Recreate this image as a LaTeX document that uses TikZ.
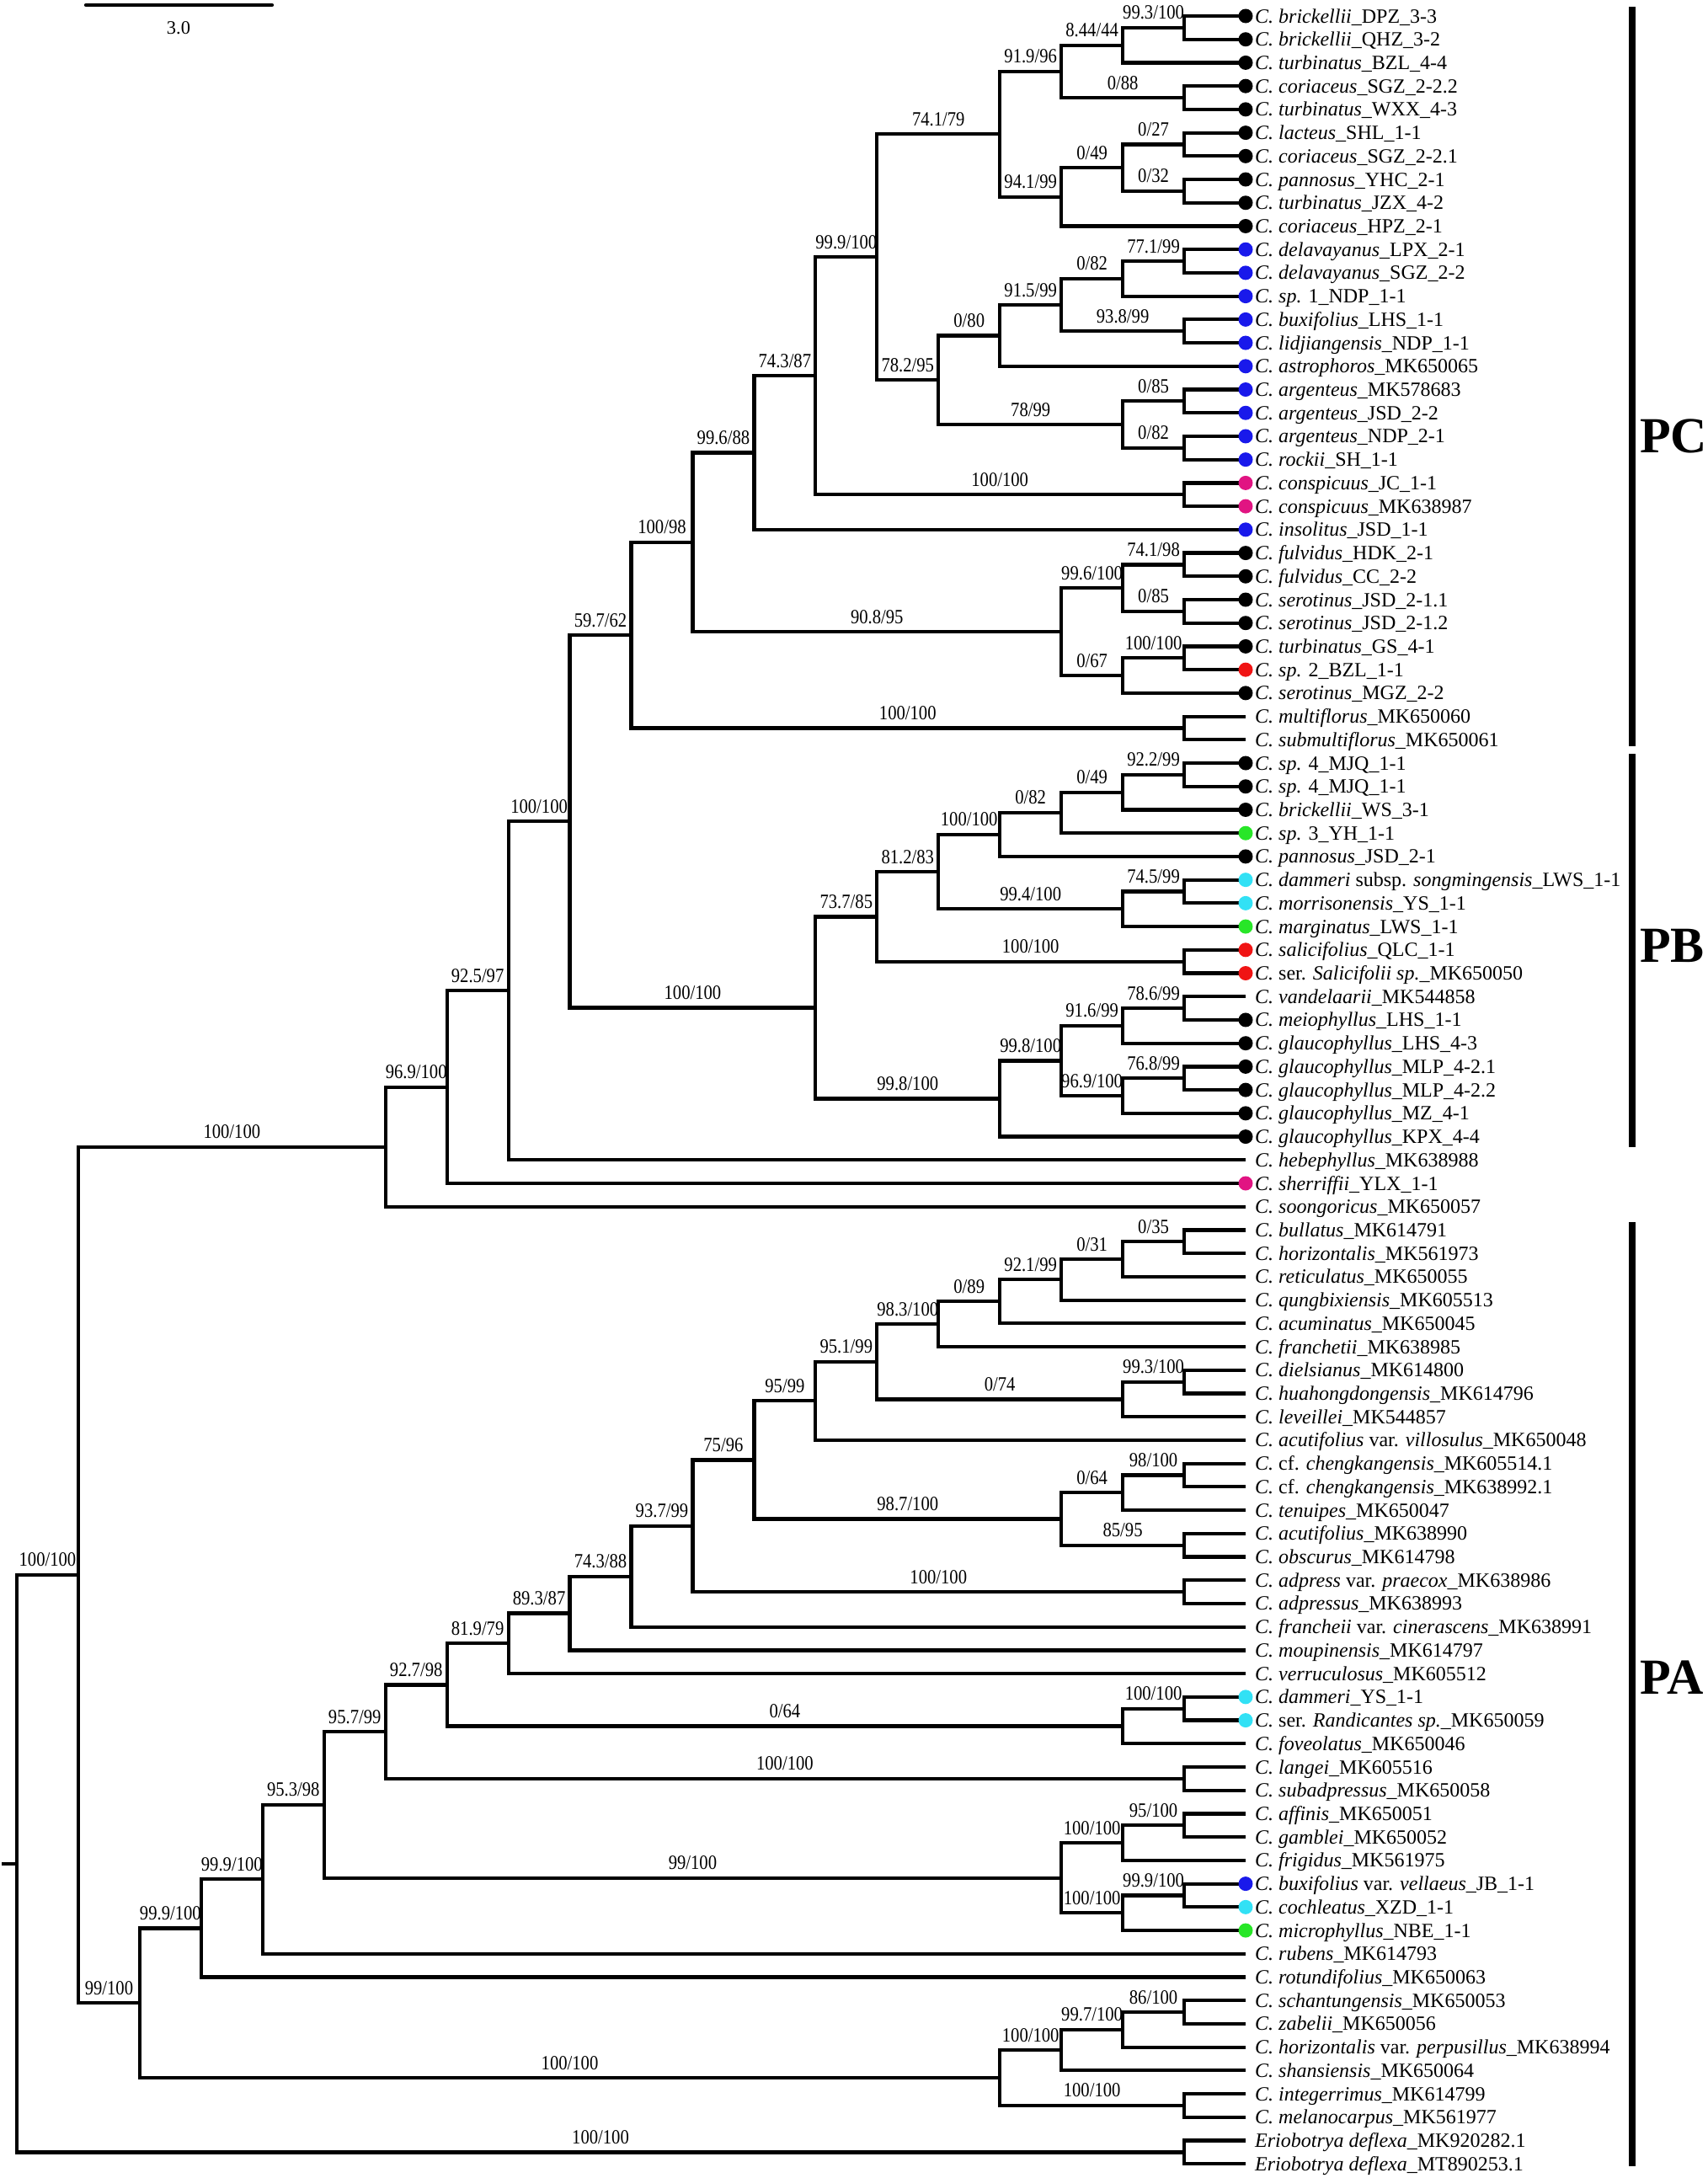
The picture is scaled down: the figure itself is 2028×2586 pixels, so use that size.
\documentclass[tikz,border=0pt]{standalone}
\usepackage{fontspec}
\setmainfont{Liberation Serif}
\newfontfamily\suppfont[FakeStretch=0.86]{Liberation Serif}
\definecolor{dblue}{RGB}{25,25,235}
\definecolor{dmag}{RGB}{225,20,130}
\definecolor{dred}{RGB}{240,20,20}
\definecolor{dgreen}{RGB}{40,230,40}
\definecolor{dcyan}{RGB}{50,225,245}
\tikzset{
  br/.style={line width=4.2pt},
  sl/.style={font=\fontsize{24}{24}\selectfont\suppfont, anchor=base, yshift=10pt, inner sep=0pt},
  tiplab/.style={font=\fontsize{24}{24}\selectfont, anchor=base west, inner sep=0pt, xshift=11pt, yshift=-8pt},
  dotn/.style={circle, minimum size=17pt, inner sep=0pt, draw=none},
  cladebar/.style={line width=8pt},
  cladelab/.style={font=\fontsize{60}{60}\selectfont\bfseries, anchor=west, inner sep=0pt}
}
\newcommand\IN[3]{\coordinate (#1) at ({1479-72.95*#2},#3);}
\newcommand\tp[2]{\coordinate (t#1) at (1479,#1);\node[tiplab] (l#1) at (t#1) {#2};}
\newcommand\cl[5]{\draw[br] (#2) -| node[sl,pos=.25]{#4} (#1) |- node[sl,pos=.75]{#5} (#3);}
\newcommand\sn[1]{\textit{#1}}
\begin{document}
\begin{tikzpicture}[x=1pt,y=1pt]
\fill[white] (0pt,0pt) rectangle (2028pt,-2586pt);
\useasboundingbox (0pt,0pt) rectangle (2028pt,-2586pt);
\begin{scope}[y=-27.72pt, yshift=8.72pt]
% tips
\tp{1}{\sn{C. brickellii}\_DPZ\_3-3}
\tp{2}{\sn{C. brickellii}\_QHZ\_3-2}
\tp{3}{\sn{C. turbinatus}\_BZL\_4-4}
\tp{4}{\sn{C. coriaceus}\_SGZ\_2-2.2}
\tp{5}{\sn{C. turbinatus}\_WXX\_4-3}
\tp{6}{\sn{C. lacteus}\_SHL\_1-1}
\tp{7}{\sn{C. coriaceus}\_SGZ\_2-2.1}
\tp{8}{\sn{C. pannosus}\_YHC\_2-1}
\tp{9}{\sn{C. turbinatus}\_JZX\_4-2}
\tp{10}{\sn{C. coriaceus}\_HPZ\_2-1}
\tp{11}{\sn{C. delavayanus}\_LPX\_2-1}
\tp{12}{\sn{C. delavayanus}\_SGZ\_2-2}
\tp{13}{\sn{C. sp.} 1\_NDP\_1-1}
\tp{14}{\sn{C. buxifolius}\_LHS\_1-1}
\tp{15}{\sn{C. lidjiangensis}\_NDP\_1-1}
\tp{16}{\sn{C. astrophoros}\_MK650065}
\tp{17}{\sn{C. argenteus}\_MK578683}
\tp{18}{\sn{C. argenteus}\_JSD\_2-2}
\tp{19}{\sn{C. argenteus}\_NDP\_2-1}
\tp{20}{\sn{C. rockii}\_SH\_1-1}
\tp{21}{\sn{C. conspicuus}\_JC\_1-1}
\tp{22}{\sn{C. conspicuus}\_MK638987}
\tp{23}{\sn{C. insolitus}\_JSD\_1-1}
\tp{24}{\sn{C. fulvidus}\_HDK\_2-1}
\tp{25}{\sn{C. fulvidus}\_CC\_2-2}
\tp{26}{\sn{C. serotinus}\_JSD\_2-1.1}
\tp{27}{\sn{C. serotinus}\_JSD\_2-1.2}
\tp{28}{\sn{C. turbinatus}\_GS\_4-1}
\tp{29}{\sn{C. sp.} 2\_BZL\_1-1}
\tp{30}{\sn{C. serotinus}\_MGZ\_2-2}
\tp{31}{\sn{C. multiflorus}\_MK650060}
\tp{32}{\sn{C. submultiflorus}\_MK650061}
\tp{33}{\sn{C. sp.} 4\_MJQ\_1-1}
\tp{34}{\sn{C. sp.} 4\_MJQ\_1-1}
\tp{35}{\sn{C. brickellii}\_WS\_3-1}
\tp{36}{\sn{C. sp.} 3\_YH\_1-1}
\tp{37}{\sn{C. pannosus}\_JSD\_2-1}
\tp{38}{\sn{C. dammeri} subsp. \sn{songmingensis}\_LWS\_1-1}
\tp{39}{\sn{C. morrisonensis}\_YS\_1-1}
\tp{40}{\sn{C. marginatus}\_LWS\_1-1}
\tp{41}{\sn{C. salicifolius}\_QLC\_1-1}
\tp{42}{\sn{C.} ser. \sn{Salicifolii sp.}\_MK650050}
\tp{43}{\sn{C. vandelaarii}\_MK544858}
\tp{44}{\sn{C. meiophyllus}\_LHS\_1-1}
\tp{45}{\sn{C. glaucophyllus}\_LHS\_4-3}
\tp{46}{\sn{C. glaucophyllus}\_MLP\_4-2.1}
\tp{47}{\sn{C. glaucophyllus}\_MLP\_4-2.2}
\tp{48}{\sn{C. glaucophyllus}\_MZ\_4-1}
\tp{49}{\sn{C. glaucophyllus}\_KPX\_4-4}
\tp{50}{\sn{C. hebephyllus}\_MK638988}
\tp{51}{\sn{C. sherriffii}\_YLX\_1-1}
\tp{52}{\sn{C. soongoricus}\_MK650057}
\tp{53}{\sn{C. bullatus}\_MK614791}
\tp{54}{\sn{C. horizontalis}\_MK561973}
\tp{55}{\sn{C. reticulatus}\_MK650055}
\tp{56}{\sn{C. qungbixiensis}\_MK605513}
\tp{57}{\sn{C. acuminatus}\_MK650045}
\tp{58}{\sn{C. franchetii}\_MK638985}
\tp{59}{\sn{C. dielsianus}\_MK614800}
\tp{60}{\sn{C. huahongdongensis}\_MK614796}
\tp{61}{\sn{C. leveillei}\_MK544857}
\tp{62}{\sn{C. acutifolius} var. \sn{villosulus}\_MK650048}
\tp{63}{\sn{C.} cf. \sn{chengkangensis}\_MK605514.1}
\tp{64}{\sn{C.} cf. \sn{chengkangensis}\_MK638992.1}
\tp{65}{\sn{C. tenuipes}\_MK650047}
\tp{66}{\sn{C. acutifolius}\_MK638990}
\tp{67}{\sn{C. obscurus}\_MK614798}
\tp{68}{\sn{C. adpress} var. \sn{praecox}\_MK638986}
\tp{69}{\sn{C. adpressus}\_MK638993}
\tp{70}{\sn{C. francheii} var. \sn{cinerascens}\_MK638991}
\tp{71}{\sn{C. moupinensis}\_MK614797}
\tp{72}{\sn{C. verruculosus}\_MK605512}
\tp{73}{\sn{C. dammeri}\_YS\_1-1}
\tp{74}{\sn{C.} ser. \sn{Randicantes sp.}\_MK650059}
\tp{75}{\sn{C. foveolatus}\_MK650046}
\tp{76}{\sn{C. langei}\_MK605516}
\tp{77}{\sn{C. subadpressus}\_MK650058}
\tp{78}{\sn{C. affinis}\_MK650051}
\tp{79}{\sn{C. gamblei}\_MK650052}
\tp{80}{\sn{C. frigidus}\_MK561975}
\tp{81}{\sn{C. buxifolius} var. \sn{vellaeus}\_JB\_1-1}
\tp{82}{\sn{C. cochleatus}\_XZD\_1-1}
\tp{83}{\sn{C. microphyllus}\_NBE\_1-1}
\tp{84}{\sn{C. rubens}\_MK614793}
\tp{85}{\sn{C. rotundifolius}\_MK650063}
\tp{86}{\sn{C. schantungensis}\_MK650053}
\tp{87}{\sn{C. zabelii}\_MK650056}
\tp{88}{\sn{C. horizontalis} var. \sn{perpusillus}\_MK638994}
\tp{89}{\sn{C. shansiensis}\_MK650064}
\tp{90}{\sn{C. integerrimus}\_MK614799}
\tp{91}{\sn{C. melanocarpus}\_MK561977}
\tp{92}{\sn{Eriobotrya deflexa}\_MK920282.1}
\tp{93}{\sn{Eriobotrya deflexa}\_MT890253.1}
% internal nodes (name, depth, row)
\IN{c1}{1}{1.5}\IN{c2}{2}{2.25}\IN{c3}{1}{4.5}\IN{c4}{3}{3.375}
\IN{c5}{1}{6.5}\IN{c6}{1}{8.5}\IN{c7}{2}{7.5}\IN{c8}{3}{8.75}
\IN{c9}{4}{6.0625}\IN{c10}{1}{11.5}\IN{c11}{2}{12.25}\IN{c12}{1}{14.5}
\IN{c13}{3}{13.375}\IN{c14}{4}{14.6875}\IN{c15}{1}{17.5}\IN{c16}{1}{19.5}
\IN{c17}{2}{18.5}\IN{c18}{5}{16.59375}\IN{c19}{6}{11.328125}\IN{c20}{1}{21.5}
\IN{c21}{7}{16.4140625}\IN{c22}{8}{19.70703}\IN{c23}{1}{24.5}\IN{c24}{1}{26.5}
\IN{c25}{2}{25.5}\IN{c26}{1}{28.5}\IN{c27}{2}{29.25}\IN{c28}{3}{27.375}
\IN{c29}{9}{23.541}\IN{c30}{1}{31.5}\IN{c31}{10}{27.5205}
\IN{b1}{1}{33.5}\IN{b2}{2}{34.25}\IN{b3}{3}{35.125}\IN{b4}{4}{36.0625}
\IN{b5}{1}{38.5}\IN{b6}{2}{39.25}\IN{b7}{5}{37.65625}\IN{b8}{1}{41.5}
\IN{b9}{6}{39.578125}\IN{b10}{1}{43.5}\IN{b11}{2}{44.25}\IN{b12}{1}{46.5}
\IN{b13}{2}{47.25}\IN{b14}{3}{45.75}\IN{b15}{4}{47.375}\IN{b16}{7}{43.4765625}
\IN{a3}{11}{35.49853}\IN{a2}{12}{42.74927}\IN{a1}{13}{46.87463}\IN{a0}{14}{49.43732}
\IN{p1}{1}{53.5}\IN{p2}{2}{54.25}\IN{p3}{3}{55.125}\IN{p4}{4}{56.0625}
\IN{p5}{5}{57.03125}\IN{p6}{1}{59.5}\IN{p7}{2}{60.25}\IN{p8}{6}{58.640625}
\IN{p9}{7}{60.3203125}\IN{p10}{1}{63.5}\IN{p11}{2}{64.25}\IN{p12}{1}{66.5}
\IN{p13}{3}{65.375}\IN{p14}{8}{62.84766}\IN{p15}{1}{68.5}\IN{p16}{9}{65.67383}
\IN{p17}{10}{67.83691}\IN{p18}{11}{69.41846}\IN{p19}{12}{70.70923}\IN{p20}{1}{73.5}
\IN{p21}{2}{74.25}\IN{p22}{13}{72.47961}\IN{p23}{1}{76.5}\IN{p24}{14}{74.48981}
\IN{p25}{1}{78.5}\IN{p26}{2}{79.25}\IN{p27}{1}{81.5}\IN{p28}{2}{82.25}
\IN{p29}{3}{80.75}\IN{p30}{15}{77.6199}\IN{p31}{16}{80.80995}\IN{p32}{17}{82.904975}
\IN{p33}{1}{86.5}\IN{p34}{2}{87.25}\IN{p35}{3}{88.125}\IN{p36}{1}{90.5}
\IN{p37}{4}{89.3125}\IN{p38}{18}{86.10874}\IN{cot}{19}{67.77303}\IN{e1}{1}{92.5}
\IN{root}{20}{80.13652}
\coordinate (r0) at (2,80.13652);
% branches
\cl{c1}{t1}{t2}{}{}
\cl{c2}{c1}{t3}{99.3/100}{}
\cl{c3}{t4}{t5}{}{}
\cl{c4}{c2}{c3}{8.44/44}{0/88}
\cl{c5}{t6}{t7}{}{}
\cl{c6}{t8}{t9}{}{}
\cl{c7}{c5}{c6}{0/27}{0/32}
\cl{c8}{c7}{t10}{0/49}{}
\cl{c9}{c4}{c8}{91.9/96}{94.1/99}
\cl{c10}{t11}{t12}{}{}
\cl{c11}{c10}{t13}{77.1/99}{}
\cl{c12}{t14}{t15}{}{}
\cl{c13}{c11}{c12}{0/82}{93.8/99}
\cl{c14}{c13}{t16}{91.5/99}{}
\cl{c15}{t17}{t18}{}{}
\cl{c16}{t19}{t20}{}{}
\cl{c17}{c15}{c16}{0/85}{0/82}
\cl{c18}{c14}{c17}{0/80}{78/99}
\cl{c19}{c9}{c18}{74.1/79}{78.2/95}
\cl{c20}{t21}{t22}{}{}
\cl{c21}{c19}{c20}{99.9/100}{100/100}
\cl{c22}{c21}{t23}{74.3/87}{}
\cl{c23}{t24}{t25}{}{}
\cl{c24}{t26}{t27}{}{}
\cl{c25}{c23}{c24}{74.1/98}{0/85}
\cl{c26}{t28}{t29}{}{}
\cl{c27}{c26}{t30}{100/100}{}
\cl{c28}{c25}{c27}{99.6/100}{0/67}
\cl{c29}{c22}{c28}{99.6/88}{90.8/95}
\cl{c30}{t31}{t32}{}{}
\cl{c31}{c29}{c30}{100/98}{100/100}
\cl{b1}{t33}{t34}{}{}
\cl{b2}{b1}{t35}{92.2/99}{}
\cl{b3}{b2}{t36}{0/49}{}
\cl{b4}{b3}{t37}{0/82}{}
\cl{b5}{t38}{t39}{}{}
\cl{b6}{b5}{t40}{74.5/99}{}
\cl{b7}{b4}{b6}{100/100}{99.4/100}
\cl{b8}{t41}{t42}{}{}
\cl{b9}{b7}{b8}{81.2/83}{100/100}
\cl{b10}{t43}{t44}{}{}
\cl{b11}{b10}{t45}{78.6/99}{}
\cl{b12}{t46}{t47}{}{}
\cl{b13}{b12}{t48}{76.8/99}{}
\cl{b14}{b11}{b13}{91.6/99}{96.9/100}
\cl{b15}{b14}{t49}{99.8/100}{}
\cl{b16}{b9}{b15}{73.7/85}{99.8/100}
\cl{a3}{c31}{b16}{59.7/62}{100/100}
\cl{a2}{a3}{t50}{100/100}{}
\cl{a1}{a2}{t51}{92.5/97}{}
\cl{a0}{a1}{t52}{96.9/100}{}
\cl{p1}{t53}{t54}{}{}
\cl{p2}{p1}{t55}{0/35}{}
\cl{p3}{p2}{t56}{0/31}{}
\cl{p4}{p3}{t57}{92.1/99}{}
\cl{p5}{p4}{t58}{0/89}{}
\cl{p6}{t59}{t60}{}{}
\cl{p7}{p6}{t61}{99.3/100}{}
\cl{p8}{p5}{p7}{98.3/100}{0/74}
\cl{p9}{p8}{t62}{95.1/99}{}
\cl{p10}{t63}{t64}{}{}
\cl{p11}{p10}{t65}{98/100}{}
\cl{p12}{t66}{t67}{}{}
\cl{p13}{p11}{p12}{0/64}{85/95}
\cl{p14}{p9}{p13}{95/99}{98.7/100}
\cl{p15}{t68}{t69}{}{}
\cl{p16}{p14}{p15}{75/96}{100/100}
\cl{p17}{p16}{t70}{93.7/99}{}
\cl{p18}{p17}{t71}{74.3/88}{}
\cl{p19}{p18}{t72}{89.3/87}{}
\cl{p20}{t73}{t74}{}{}
\cl{p21}{p20}{t75}{100/100}{}
\cl{p22}{p19}{p21}{81.9/79}{0/64}
\cl{p23}{t76}{t77}{}{}
\cl{p24}{p22}{p23}{92.7/98}{100/100}
\cl{p25}{t78}{t79}{}{}
\cl{p26}{p25}{t80}{95/100}{}
\cl{p27}{t81}{t82}{}{}
\cl{p28}{p27}{t83}{99.9/100}{}
\cl{p29}{p26}{p28}{100/100}{100/100}
\cl{p30}{p24}{p29}{95.7/99}{99/100}
\cl{p31}{p30}{t84}{95.3/98}{}
\cl{p32}{p31}{t85}{99.9/100}{}
\cl{p33}{t86}{t87}{}{}
\cl{p34}{p33}{t88}{86/100}{}
\cl{p35}{p34}{t89}{99.7/100}{}
\cl{p36}{t90}{t91}{}{}
\cl{p37}{p35}{p36}{100/100}{100/100}
\cl{p38}{p32}{p37}{99.9/100}{100/100}
\cl{cot}{a0}{p38}{100/100}{99/100}
\cl{e1}{t92}{t93}{}{}
\cl{root}{cot}{e1}{100/100}{100/100}
\draw[br] (r0) -- (root);
% dots
\foreach \i in {1,...,10,24,25,26,27,28,30,33,34,35,37,44,45,46,47,48,49}
  {\node[dotn,fill=black] (d\i) at (t\i) {};}
\foreach \i in {11,...,20,23,81}
  {\node[dotn,fill=dblue] (d\i) at (t\i) {};}
\foreach \i in {21,22,51}
  {\node[dotn,fill=dmag] (d\i) at (t\i) {};}
\foreach \i in {29,41,42}
  {\node[dotn,fill=dred] (d\i) at (t\i) {};}
\foreach \i in {36,40,83}
  {\node[dotn,fill=dgreen] (d\i) at (t\i) {};}
\foreach \i in {38,39,73,74,82}
  {\node[dotn,fill=dcyan] (d\i) at (t\i) {};}
\end{scope}
% scale bar
\coordinate (sb1) at (102pt,-6pt);
\coordinate (sb2) at (323pt,-6pt);
\draw[br, line cap=round] (sb1) -- (sb2);
\node[font=\fontsize{22.5}{22.5}\selectfont, anchor=base, inner sep=0pt] (sbl) at (212pt,-40pt) {3.0};
% clade bars
\coordinate (pc1) at (1938pt,-8pt);  \coordinate (pc2) at (1938pt,-886pt);
\coordinate (pb1) at (1938pt,-895pt);\coordinate (pb2) at (1938pt,-1362pt);
\coordinate (pa1) at (1938pt,-1451pt);\coordinate (pa2) at (1938pt,-2572pt);
\draw[cladebar] (pc1) -- (pc2);
\draw[cladebar] (pb1) -- (pb2);
\draw[cladebar] (pa1) -- (pa2);
\node[cladelab] (PC) at (1947pt,-518pt) {PC};
\node[cladelab] (PB) at (1947pt,-1123pt) {PB};
\node[cladelab] (PA) at (1947pt,-1992pt) {PA};
\end{tikzpicture}
\end{document}
